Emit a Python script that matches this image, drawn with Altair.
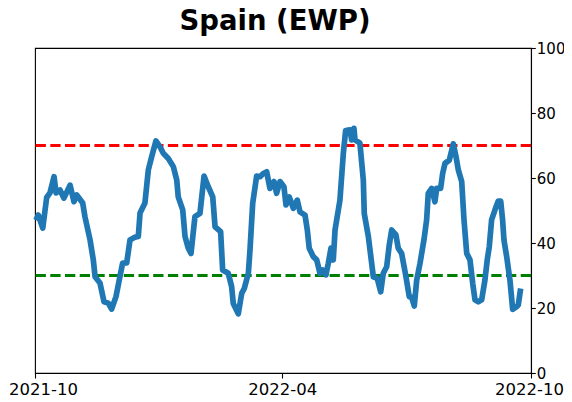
import altair as alt
import pandas as pd

# day offsets from 2021-10-01 and indicator values
day_offsets = [0.7, 2.4, 5.7, 8.6, 11.0, 14.0, 15.5, 18.4, 21.3, 25.8, 28.7, 30.7, 35.1, 36.8,
               40.5, 42.9, 44.2, 47.8, 50.8, 53.9, 56.4, 59.6, 62.0, 64.5, 67.5, 69.9, 73.6, 76.0,
               77.3, 80.9, 83.4, 85.9, 89.0, 92.0, 94.4, 98.1, 101.8, 104.3, 105.4, 108.7, 110.4,
               112.8, 114.8, 117.7, 121.4, 124.4, 127.5, 130.8, 132.5, 136.6, 138.1, 142.2, 144.7,
               145.9, 149.6, 152.1, 154.0, 157.0, 158.2, 160.2, 163.1, 165.6, 168.0, 170.5, 172.9,
               175.9, 177.8, 180.3, 183.2, 184.7, 187.1, 190.1, 193.0, 195.0, 198.7, 200.4, 201.8,
               204.8, 207.3, 209.7, 211.7, 214.1, 215.8, 217.8, 219.5, 220.8, 224.4, 226.9, 228.6,
               231.8, 233.0, 234.7, 235.5, 239.1, 241.6, 242.3, 245.3, 247.0, 249.0, 251.9, 254.4,
               256.3, 258.8, 260.7, 262.5, 265.6, 267.3, 269.8, 273.0, 275.4, 277.2, 279.1, 280.9,
               283.3, 286.2, 288.2, 289.4, 291.9, 294.3, 295.6, 298.5, 300.0, 301.7, 304.9, 307.8,
               309.8, 311.5, 314.0, 315.7, 317.7, 320.1, 322.1, 323.8, 326.2, 328.7, 331.1, 332.8,
               334.3, 336.0, 338.5, 340.9, 342.7, 344.1, 345.1, 347.1, 349.5, 351.5, 354.4, 355.6,
               357.4]
values = [47.0, 48.6, 44.6, 54.0, 55.4, 60.4, 55.4, 56.3, 53.8, 57.8, 52.7, 54.8, 52.3, 48.0,
          41.0, 34.8, 29.6, 27.7, 21.9, 21.5, 19.7, 23.5, 28.6, 33.8, 33.9, 40.9, 41.8, 42.0,
          49.2, 52.3, 62.5, 66.6, 71.4, 69.6, 67.6, 66.0, 63.5, 59.4, 54.2, 50.2, 42.0,
          38.4, 36.8, 48.1, 49.1, 60.6, 57.3, 54.2, 45.0, 43.5, 31.7, 30.7, 26.6,
          21.4, 18.2, 24.5, 26.0, 30.7, 37.8, 52.2, 60.6, 60.4, 61.4, 61.9, 56.8,
          58.9, 55.3, 58.9, 57.3, 51.7, 54.2, 50.7, 53.2, 49.6, 48.6, 44.0, 38.4,
          35.8, 34.8, 30.7, 31.7, 30.2, 33.7, 38.4, 34.8, 44.0, 53.2, 67.6, 74.6,
          74.8, 71.7, 75.3, 71.7, 70.7, 59.4, 49.1, 42.0, 36.3, 29.6, 29.1, 25.0,
          30.7, 32.7, 39.4, 44.0, 42.5, 38.4, 36.8, 29.6, 23.5, 23.3, 20.6, 28.6,
          33.7, 40.9, 47.1, 55.3, 56.8, 52.7, 56.8, 56.8, 61.4, 64.5, 65.5, 70.5,
          66.6, 62.5, 58.9, 47.1, 36.8, 34.8, 27.6, 22.5, 21.9, 22.5, 28.6, 34.8,
          38.9, 47.1, 50.2, 52.9, 52.9, 47.1, 40.9, 35.8, 28.6, 19.6, 20.4, 20.9,
          26.0]

upper_level = 70
lower_level = 30
y_ticks = [0, 20, 40, 60, 80, 100]
x_ticks = ["2021-10-01", "2022-04-01", "2022-10-01"]
title_text = "Spain (EWP)"

start = pd.Timestamp("2021-10-01")
dates = [(start + pd.Timedelta(days=d)).strftime("%Y-%m-%dT%H:%M:%S") for d in day_offsets]
df = pd.DataFrame({"date": dates, "value": values})


def dt(s):
    t = pd.Timestamp(s)
    return alt.DateTime(year=t.year, month=t.month, date=t.day)


x_scale = alt.Scale(domain=[dt(x_ticks[0]), dt(x_ticks[-1])])
y_scale = alt.Scale(domain=[0, 100], nice=False, zero=False)

x_axis = alt.Axis(values=[dt(s) for s in x_ticks], format="%Y-%m", title=None,
                  labelFlush=False, labelOverlap=False, grid=False, labelFontSize=16.5,
                  labelOffset={"condition": [{"test": "datum.index == 0", "value": 8},
                                             {"test": "datum.index == 1", "value": -2}],
                               "value": 0})
y_axis = alt.Axis(values=y_ticks, orient="right", title=None, grid=False,
                  labelFontSize=15, labelPadding=1, tickSize=4.3)

line = alt.Chart(df).mark_line(color="#1f77b4", strokeWidth=5.7, strokeJoin="round",
                               strokeCap="butt").encode(
    x=alt.X("date:T", scale=x_scale, axis=x_axis),
    y=alt.Y("value:Q", scale=y_scale, axis=y_axis),
)

red = alt.Chart().mark_rule(color="#ff0000", strokeWidth=2.8, strokeDash=[10.3, 4.4]).encode(
    y=alt.datum(upper_level, type="quantitative", scale=y_scale))
green = alt.Chart().mark_rule(color="#008000", strokeWidth=2.8, strokeDash=[10.3, 4.4]).encode(
    y=alt.datum(lower_level, type="quantitative", scale=y_scale))

chart = alt.layer(red, green, line).properties(
    width=496, height=325,
    padding={"left": 27, "top": 40, "right": 33, "bottom": 29},
    autosize=alt.AutoSizeParams(type="none"),
    title=alt.TitleParams(title_text, font="DejaVu Sans", fontSize=27.5, fontWeight="bold",
                          color="black", anchor="middle", dx=-8, offset=6),
).configure_view(stroke="black", strokeWidth=1.1).configure_axis(
    labelFont="DejaVu Sans", labelColor="black",
    domainColor="black", domainWidth=1.1, tickColor="black", tickSize=5, tickWidth=1.1,
    labelPadding=3,
)

chart.save("out.html", embed_options={"renderer": "svg", "actions": False})
